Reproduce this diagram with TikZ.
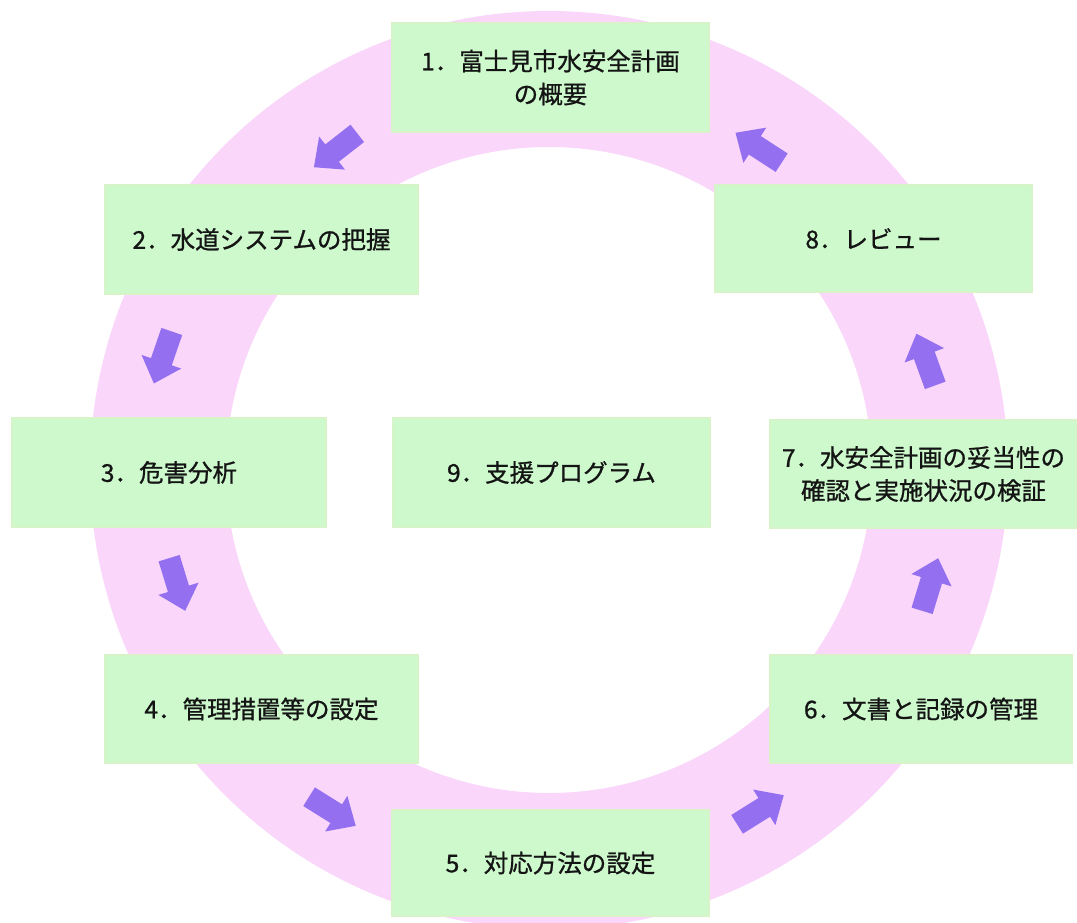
\documentclass[tikz,border=0pt]{standalone}
\usepackage{fontspec}
\setmainfont{Noto Sans CJK JP}
\newfontfamily\jpfont{Noto Sans CJK JP}[FakeBold=0.9]
\definecolor{ringpink}{RGB}{249,214,250}
\definecolor{boxgreen}{RGB}{205,249,204}
\definecolor{boxedge}{RGB}{214,244,200}
\definecolor{arrowcol}{RGB}{148,112,240}
\definecolor{textcol}{RGB}{20,20,20}
\begin{document}
\begin{tikzpicture}[x=1pt,y=1pt,
  stepbox/.style={fill=boxgreen, draw=boxedge, line width=1.2pt, text=textcol,
    align=center, inner sep=0pt, font=\jpfont\fontsize{24.5}{33}\selectfont},
  flowarrow/.pic={\fill[arrowcol] (-27,-11) -- (5,-11) -- (5,-21) -- (28,0) -- (5,21) -- (5,11) -- (-27,11) -- cycle;}]
\useasboundingbox (0,0) rectangle (1077,-922);
\fill[white] (0,0) rectangle (1077,-922);
% ring
\fill[ringpink, even odd rule] (549,-470) circle (459) (549,-470) circle (323);
% boxes
\node[stepbox, minimum width=317, minimum height=109] (s1) at (550.5,-77.5) {1．富士見市水安全計画\\の概要};
\node[stepbox, minimum width=313, minimum height=109] (s2) at (261.5,-239.5) {2．水道システムの把握};
\node[stepbox, minimum width=314, minimum height=109] (s3) at (169,-472.5) {3．危害分析};
\node[stepbox, minimum width=313, minimum height=108] (s4) at (261.5,-709) {4．管理措置等の設定};
\node[stepbox, minimum width=317, minimum height=106] (s5) at (550.5,-863) {5．対応方法の設定};
\node[stepbox, minimum width=302, minimum height=108] (s6) at (921,-709) {6．文書と記録の管理};
\node[stepbox, minimum width=307, minimum height=108] (s7) at (923.5,-474) {7．水安全計画の妥当性の\\確認と実施状況の検証};
\node[stepbox, minimum width=317, minimum height=107] (s8) at (873.5,-238.5) {8．レビュー};
\node[stepbox, minimum width=317, minimum height=109] (s9) at (551.5,-472.5) {9．支援プログラム};
% arrows
\pic[rotate=218] at (336,-150) {flowarrow};
\pic[rotate=251] at (163,-357) {flowarrow};
\pic[rotate=287] at (177,-584) {flowarrow};
\pic[rotate=328] at (332,-811) {flowarrow};
\pic[rotate=32] at (760,-810) {flowarrow};
\pic[rotate=73] at (930,-585) {flowarrow};
\pic[rotate=110] at (926,-360) {flowarrow};
\pic[rotate=147] at (759,-148) {flowarrow};
\end{tikzpicture}
\end{document}
